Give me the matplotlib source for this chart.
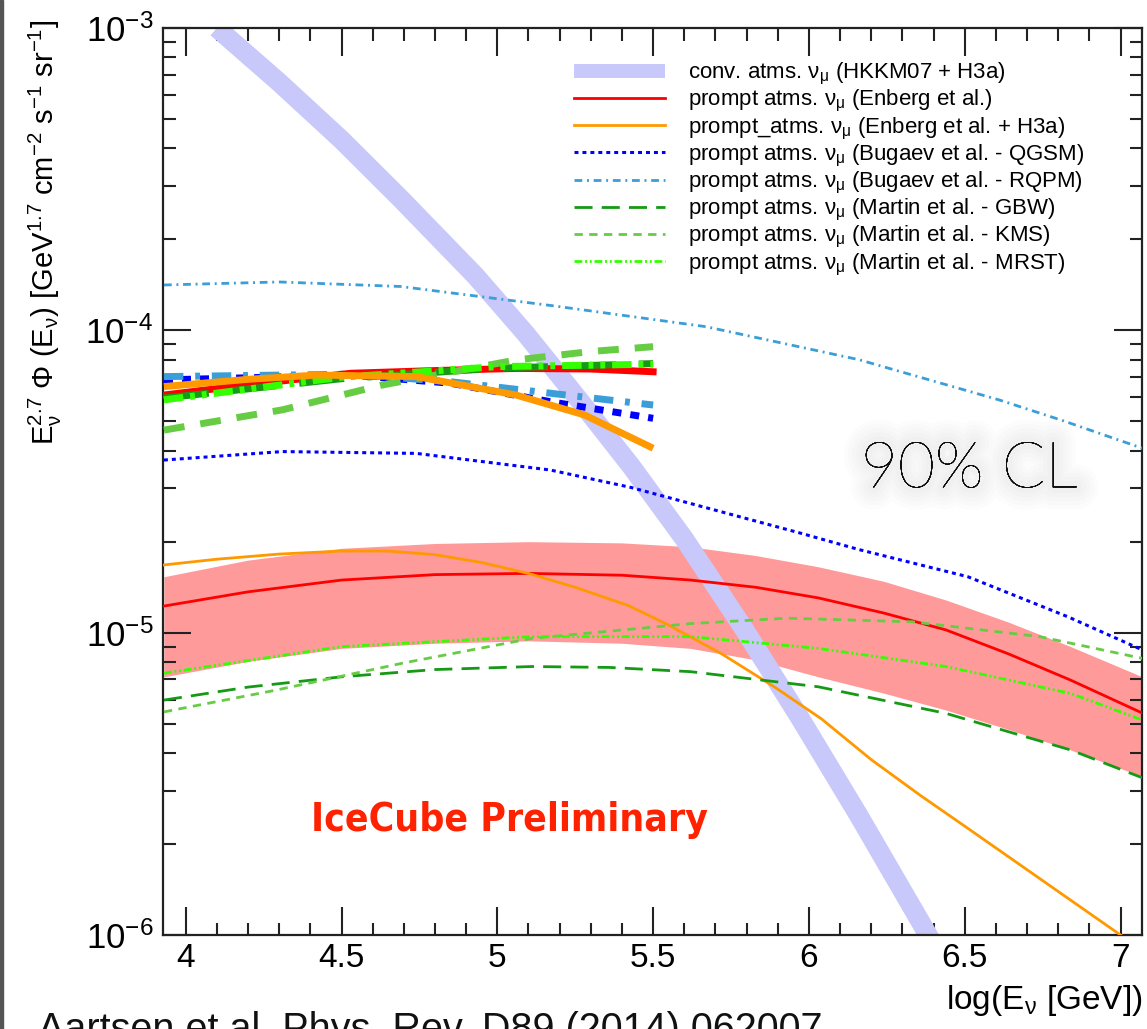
import matplotlib
matplotlib.use('Agg')
import numpy as np
import matplotlib.pyplot as plt
from matplotlib import font_manager, patheffects
from matplotlib.ticker import MultipleLocator, LogLocator, FuncFormatter, NullFormatter
from matplotlib.lines import Line2D
from matplotlib.patches import Rectangle

plt.rcParams['font.family'] = ['Liberation Sans', 'DejaVu Sans']
plt.rcParams['mathtext.fontset'] = 'custom'
plt.rcParams['mathtext.rm'] = 'Liberation Sans'
plt.rcParams['mathtext.it'] = 'Liberation Sans:italic'
plt.rcParams['mathtext.bf'] = 'Liberation Sans:bold'
plt.rcParams['mathtext.sf'] = 'Liberation Sans'

# --- data: x = log10(E/GeV), y = log10(E^2.7 * flux) ---
conv_x = [4.10, 4.30, 4.50, 4.69, 4.93, 5.09, 5.27, 5.43, 5.60, 5.79, 5.97, 6.16, 6.36, 6.42]
conv_y = [-3.00, -3.18, -3.37, -3.565, -3.82, -4.01, -4.24, -4.45, -4.69, -4.985, -5.28, -5.605, -5.96, -6.07]

enb_x = [3.93, 4.20, 4.50, 4.80, 5.10, 5.40, 5.62, 5.83, 6.03, 6.24, 6.44, 6.64, 6.84, 7.07]
enb_c = [-4.912, -4.865, -4.826, -4.808, -4.804, -4.81, -4.826, -4.85, -4.885, -4.935, -4.991, -5.07, -5.157, -5.266]
enb_hi = [-4.815, -4.76, -4.721, -4.705, -4.699, -4.703, -4.716, -4.745, -4.782, -4.83, -4.892, -4.965, -5.046, -5.146]
enb_lo = [-5.146, -5.095, -5.052, -5.035, -5.027, -5.035, -5.052, -5.09, -5.146, -5.20, -5.256, -5.32, -5.388, -5.476]

h3a_x = [3.93, 4.10, 4.30, 4.50, 4.65, 4.80, 4.95, 5.10, 5.25, 5.42, 5.55, 5.72, 5.89, 6.04,
         6.20, 6.36, 6.50, 6.75, 7.00, 7.07]
h3a_y = [-4.776, -4.757, -4.740, -4.730, -4.730, -4.742, -4.768, -4.804, -4.85, -4.91, -4.975,
         -5.07, -5.18, -5.285, -5.42, -5.54, -5.64, -5.82, -6.00, -6.05]

qgsm_x = [3.93, 4.31, 4.74, 5.17, 5.43, 5.79, 5.97, 6.16, 6.51, 6.83, 7.07]
qgsm_y = [-4.429, -4.401, -4.407, -4.462, -4.52, -4.62, -4.67, -4.725, -4.815, -4.947, -5.057]

rqpm_x = [3.93, 4.30, 4.69, 5.18, 5.67, 6.16, 6.61, 6.81, 7.07]
rqpm_y = [-3.85, -3.84, -3.855, -3.919, -3.988, -4.097, -4.23, -4.297, -4.39]

gbw_x = [3.93, 4.20, 4.50, 4.80, 5.11, 5.36, 5.62, 6.03, 6.44, 6.84, 7.07]
gbw_y = [-5.223, -5.18, -5.146, -5.122, -5.112, -5.115, -5.129, -5.179, -5.267, -5.388, -5.48]

kms_x = [3.93, 4.29, 4.70, 5.11, 5.62, 5.93, 6.33, 6.74, 7.07]
kms_y = [-5.262, -5.19, -5.10, -5.019, -4.97, -4.952, -4.964, -5.013, -5.085]

mrst_x = [3.93, 4.50, 5.11, 5.62, 6.03, 6.44, 6.84, 7.07]
mrst_y = [-5.134, -5.046, -5.013, -5.013, -5.052, -5.112, -5.201, -5.289]

# thick curves up to log E = 5.5
tk_red_x = [3.93, 4.20, 4.53, 4.80, 5.06, 5.30, 5.50]
tk_red_y = [-4.214, -4.18, -4.142, -4.133, -4.126, -4.128, -4.137]
tk_gbw_x = [3.93, 4.50, 5.00, 5.50]
tk_gbw_y = [-4.224, -4.16, -4.125, -4.11]
tk_mrst_x = [3.93, 4.50, 5.00, 5.50]
tk_mrst_y = [-4.23, -4.155, -4.12, -4.112]
tk_kms_x = [3.93, 4.31, 4.63, 5.06, 5.30, 5.50]
tk_kms_y = [-4.33, -4.263, -4.181, -4.098, -4.07, -4.054]
tk_h3a_x = [3.93, 4.20, 4.42, 4.74, 5.06, 5.28, 5.50]
tk_h3a_y = [-4.186, -4.162, -4.148, -4.153, -4.214, -4.28, -4.39]
tk_qgsm_x = [3.93, 4.53, 4.85, 5.17, 5.50]
tk_qgsm_y = [-4.164, -4.148, -4.175, -4.236, -4.291]
tk_rqpm_x = [3.93, 4.53, 4.85, 5.17, 5.50]
tk_rqpm_y = [-4.153, -4.145, -4.17, -4.208, -4.247]

labels = [
    r'conv. atms. $\mathrm{\nu}_{\mathrm{\mu}}$ (HKKM07 + H3a)',
    r'prompt atms. $\mathrm{\nu}_{\mathrm{\mu}}$ (Enberg et al.)',
    r'prompt_atms. $\mathrm{\nu}_{\mathrm{\mu}}$ (Enberg et al. + H3a)',
    r'prompt atms. $\mathrm{\nu}_{\mathrm{\mu}}$ (Bugaev et al. - QGSM)',
    r'prompt atms. $\mathrm{\nu}_{\mathrm{\mu}}$ (Bugaev et al. - RQPM)',
    r'prompt atms. $\mathrm{\nu}_{\mathrm{\mu}}$ (Martin et al. - GBW)',
    r'prompt atms. $\mathrm{\nu}_{\mathrm{\mu}}$ (Martin et al. - KMS)',
    r'prompt atms. $\mathrm{\nu}_{\mathrm{\mu}}$ (Martin et al. - MRST)',
]

c_conv = '#c8c8fa'
c_red = '#ff0000'
c_or = '#ff9900'
c_blue = '#0000ff'
c_lblue = '#3a9ed8'
c_dgreen = '#169a16'
c_kms = '#66cc44'
c_mrst = '#33ff00'
c_band = '#ff9a9a'

d_qgsm = (1.3, 1.3)
d_rqpm = (2.8, 1.7, 0.7, 1.7)
d_gbw = (6.5, 3.3)
d_kms = (3.0, 2.3)
d_mrst = (2.8, 1.0, 0.7, 1.0, 0.7, 1.0)

def p(v):
    return 10.0 ** np.asarray(v)

W, H = 1147, 1029
fig = plt.figure(figsize=(W / 100, H / 100), dpi=100)
ax = fig.add_axes([163 / W, 1 - 935 / H, 978.7 / W, 907 / H])

ax.fill_between(enb_x, p(enb_lo), p(enb_hi), color=c_band, lw=0, zorder=1)
h_conv, = ax.plot(conv_x, p(conv_y), color=c_conv, lw=14, solid_capstyle='butt',
                  solid_joinstyle='round', zorder=2)

lw = 2.0
ax.plot(enb_x, p(enb_c), color=c_red, lw=lw, zorder=3)
ax.plot(h3a_x, p(h3a_y), color=c_or, lw=lw, zorder=3)
ax.plot(qgsm_x, p(qgsm_y), color=c_blue, lw=2.2, dashes=d_qgsm, zorder=3)
ax.plot(rqpm_x, p(rqpm_y), color=c_lblue, lw=lw, dashes=d_rqpm, zorder=3)
ax.plot(gbw_x, p(gbw_y), color=c_dgreen, lw=lw, dashes=d_gbw, zorder=3)
ax.plot(kms_x, p(kms_y), color=c_kms, lw=lw, dashes=d_kms, zorder=3)
ax.plot(mrst_x, p(mrst_y), color=c_mrst, lw=lw, dashes=d_mrst, zorder=3)

tw = 5.0
ax.plot(tk_qgsm_x, p(tk_qgsm_y), color=c_blue, lw=tw, dashes=d_qgsm, zorder=4)
ax.plot(tk_rqpm_x, p(tk_rqpm_y), color=c_lblue, lw=tw, dashes=d_rqpm, zorder=4)
ax.plot(tk_red_x, p(tk_red_y), color=c_red, lw=tw, zorder=4)
ax.plot(tk_gbw_x, p(tk_gbw_y), color=c_dgreen, lw=tw, dashes=d_gbw, zorder=4)
ax.plot(tk_kms_x, p(tk_kms_y), color=c_kms, lw=tw, dashes=d_kms, zorder=4)
ax.plot(tk_mrst_x, p(tk_mrst_y), color=c_mrst, lw=tw, dashes=d_mrst, zorder=4)
ax.plot(tk_h3a_x, p(tk_h3a_y), color=c_or, lw=tw, solid_capstyle='butt', zorder=5)

ax.set_xlim(3.927, 7.068)
ax.set_yscale('log')
ax.set_ylim(1e-6, 1e-3)

ax.xaxis.set_major_locator(MultipleLocator(0.5))
ax.xaxis.set_minor_locator(MultipleLocator(0.1))
ax.xaxis.set_major_formatter(FuncFormatter(lambda v, pos: f'{v:g}'))
ax.yaxis.set_major_locator(LogLocator(base=10))
ax.yaxis.set_minor_locator(LogLocator(base=10, subs=np.arange(2, 10)))
ax.yaxis.set_minor_formatter(NullFormatter())
ax.tick_params(which='both', direction='in', top=True, right=True, width=1.5, color='#222222')
ax.tick_params(which='major', length=20)
ax.tick_params(which='minor', length=9)
ax.tick_params(axis='x', which='major', labelsize=24, pad=6)
ax.tick_params(axis='y', which='major', labelsize=25, pad=7)
for s in ax.spines.values():
    s.set_linewidth(1.6)
    s.set_color('#222222')

leg_handles = [
    Line2D([], [], color=c_conv, lw=10, solid_capstyle='butt'),
    Line2D([], [], color=c_red, lw=2),
    Line2D([], [], color=c_or, lw=2),
    Line2D([], [], color=c_blue, lw=2.2, dashes=d_qgsm),
    Line2D([], [], color=c_lblue, lw=2, dashes=d_rqpm),
    Line2D([], [], color=c_dgreen, lw=2, dashes=d_gbw),
    Line2D([], [], color=c_kms, lw=2, dashes=d_kms),
    Line2D([], [], color=c_mrst, lw=2, dashes=d_mrst),
]
ax.legend(leg_handles, labels, loc='upper left', bbox_to_anchor=(574 / W, 1 - 61 / H),
          bbox_transform=fig.transFigure, frameon=False, fontsize=16,
          handlelength=4.1, handletextpad=1.05, labelspacing=0.05, borderpad=0, borderaxespad=0)

# y title (ROOT style, top aligned)
fig.text(45 / W, 1 - 20 / H,
         r'$\mathrm{E}_{\mathrm{\nu}}^{2.7}\ \Phi\ (\mathrm{E}_{\mathrm{\nu}})\ [\mathrm{GeV}^{1.7}\ \mathrm{cm}^{-2}\ \mathrm{s}^{-1}\ \mathrm{sr}^{-1}]$',
         rotation=90, ha='center', va='top', fontsize=21)
fig.text(1143 / W, 1 - 1000 / H, r'log(E$_{\mathrm{\nu}}$ [GeV])', ha='right', va='center', fontsize=24)

# 90% CL with a soft shadow
glow = [patheffects.withStroke(linewidth=w, foreground=(0, 0, 0, 0.012)) for w in (32, 26, 20, 14, 8)]
ax.text(969 / W, 1 - 470 / H, '90% CL', transform=fig.transFigure, ha='center', va='center',
        fontsize=46, family=['Lato', 'Liberation Sans'], weight='light', color='#111111',
        path_effects=glow + [patheffects.Normal()], zorder=6)

# IceCube Preliminary
names = {f.name for f in font_manager.fontManager.ttflist}
if 'Liberation Sans Narrow' in names:
    ic_fam, ic_size, ic_stretch = 'Liberation Sans Narrow', 37, 'normal'
else:
    ic_fam, ic_size, ic_stretch = 'DejaVu Sans', 28, 'condensed'
fig.text(509 / W, 1 - 820 / H, 'IceCube Preliminary', ha='center', va='center', color='#ff2200',
         fontsize=ic_size, family=ic_fam, fontstretch=ic_stretch, weight='bold')

# cut-off citation at the slide bottom
fig.text(38 / W, 1 - 1011 / H, 'Aartsen et al. Phys. Rev. D89 (2014) 062007',
         ha='left', va='top', fontsize=28.5, color='#111111')

fig.patches.append(Rectangle((0, 0), 3 / W, 1, transform=fig.transFigure, color='#555555', zorder=10))

fig.savefig('out.png', dpi=100)
